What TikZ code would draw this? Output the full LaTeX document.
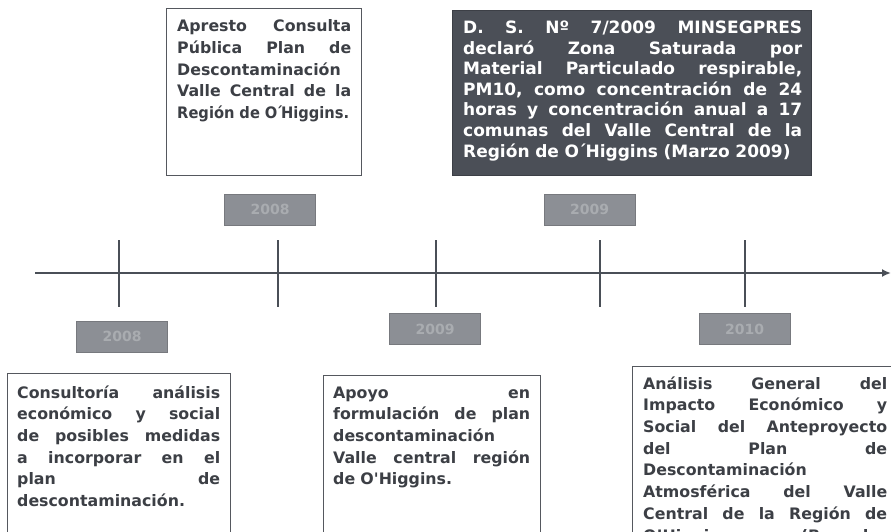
\documentclass[tikz,border=0pt]{standalone}
\usepackage{fontspec}
\usepackage{graphicx}
\setmainfont{DejaVu Sans}
\usetikzlibrary{arrows.meta}
\definecolor{ink}{HTML}{3C3F45}
\definecolor{axiscol}{HTML}{4A4F57}
\definecolor{darkbox}{HTML}{4B4F57}
\definecolor{yearfill}{HTML}{8C8F95}
\definecolor{yeartext}{HTML}{A9ACB0}
\definecolor{framecol}{HTML}{55585E}
\newlength{\jw}
\newcommand{\jl}[1]{\leavevmode\strut\hbox to \jw{#1}\\}
\begin{document}
\begin{tikzpicture}[x=1pt,y=-1pt,
  card/.style={draw=framecol,line width=1.1pt,anchor=north west,inner sep=0pt},
  darkcard/.style={fill=darkbox,draw=darkbox!80!black,line width=1pt,anchor=north west,inner sep=0pt},
  cardtext/.style={anchor=north west,inner sep=0pt,align=left,text=ink,font=\fontsize{15.8}{21.7}\selectfont\bfseries},
  darktext/.style={anchor=north west,inner sep=0pt,align=left,text=white,font=\fontsize{17}{20.6}\selectfont\bfseries},
  yearbox/.style={fill=yearfill,draw=framecol!80,line width=1pt,minimum width=91pt,minimum height=31pt,inner sep=0pt,text=yeartext,font=\fontsize{14}{16}\selectfont\bfseries},
  axisline/.style={draw=axiscol,line width=2.8pt},
  tickline/.style={draw=axiscol,line width=2pt}
]
\useasboundingbox (0,0) rectangle (891,532);
\clip (0,0) rectangle (891,532);

% axis
\coordinate (axS) at (35,273);
\coordinate (axE) at (891,273);
\draw[axisline,-{Latex[length=9pt,width=8pt]}] (axS) -- (axE);

% ticks
\foreach \n/\x in {1/119,2/278,3/436,4/600,5/745}{
  \coordinate (t\n a) at (\x,240);
  \coordinate (t\n b) at (\x,307);
  \draw[tickline] (t\n a) -- (t\n b);
}

% year labels
\node[yearbox] (y1) at (122,336.5) {2008};
\node[yearbox] (y2) at (270,209.5) {2008};
\node[yearbox] (y3) at (435,329) {2009};
\node[yearbox] (y4) at (589.5,209.5) {2009};
\node[yearbox] (y5) at (744.5,329) {2010};

% box A
\node[card,minimum width=195pt,minimum height=167pt] (boxA) at (166,8) {};
\node[cardtext,text width=174pt] (txtA) at (177,16.3) {\setlength{\jw}{174pt}%
\jl{Apresto\hfil Consulta}
\jl{Pública\hfil Plan\hfil de}
Descontaminación\\
\jl{Valle\hfil Central\hfil de\hfil la}
\scalebox{0.93}[1]{Región de O\kern-2pt´\kern-2pt Higgins.}};

% box B (dark)
\node[darkcard,minimum width=359pt,minimum height=165pt] (boxB) at (452,10) {};
\node[darktext,text width=339pt] (txtB) at (463,18.9) {\setlength{\jw}{339pt}%
\jl{D.\hfil S.\hfil Nº\hfil 7/2009\hfil MINSEGPRES}
\jl{declaró\hfil Zona\hfil Saturada\hfil por}
\jl{Material\hfil Particulado\hfil respirable,}
\jl{PM10,\hfil como\hfil concentración\hfil de\hfil 24}
\jl{horas\hfil y\hfil concentración\hfil anual\hfil a\hfil 17}
\jl{comunas\hfil del\hfil Valle\hfil Central\hfil de\hfil la}
Región de O\kern-1pt´\kern-1pt Higgins (Marzo 2009)};

% box C
\node[card,minimum width=223pt,minimum height=200pt] (boxC) at (7,373) {};
\node[cardtext,text width=203pt] (txtC) at (17,382.8) {\setlength{\jw}{203pt}%
\jl{Consultoría\hfil análisis}
\jl{económico\hfil y\hfil social}
\jl{de\hfil posibles\hfil medidas}
\jl{a\hfil incorporar\hfil en\hfil el}
\jl{plan\hfil de}
descontaminación.};

% box D
\node[card,minimum width=217pt,minimum height=200pt] (boxD) at (323,375) {};
\node[cardtext,text width=197pt] (txtD) at (333,382.8) {\setlength{\jw}{197pt}%
\jl{Apoyo\hfil en}
\jl{formulación\hfil de\hfil plan}
descontaminación\\
\jl{Valle\hfil central\hfil región}
de O\textquotesingle Higgins.};

% box E
\node[card,minimum width=300pt,minimum height=220pt] (boxE) at (632,366) {};
\node[cardtext,text width=244pt] (txtE) at (643,373.8) {\setlength{\jw}{244pt}%
\jl{Análisis\hfil General\hfil del}
\jl{Impacto\hfil Económico\hfil y}
\jl{Social\hfil del\hfil Anteproyecto}
\jl{del\hfil Plan\hfil de}
Descontaminación\\
\jl{Atmosférica\hfil del\hfil Valle}
\jl{Central\hfil de\hfil la\hfil Región\hfil de}
\jl{O’Higgins\hfil (Borrador}};
\end{tikzpicture}
\end{document}
